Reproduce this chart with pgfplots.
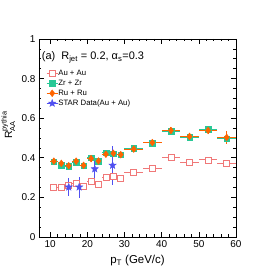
\documentclass[border=0pt]{standalone}
\usepackage{fontspec}
\setmainfont{Liberation Sans}
\usepackage{amsmath}
\usepackage{pgfplots}
\usepackage{pgfplotstable}
\pgfplotsset{compat=1.18}
\definecolor{auc}{RGB}{240,120,120}
\definecolor{zrc}{RGB}{40,200,150}
\definecolor{ruc}{RGB}{255,100,0}
\definecolor{starc}{RGB}{80,80,240}

\pgfdeclareplotmark{fstar}{%
  \pgfpathmoveto{\pgfpointpolar{90}{\pgfplotmarksize}}%
  \pgfpathlineto{\pgfpointpolar{126}{0.42\pgfplotmarksize}}%
  \pgfpathlineto{\pgfpointpolar{162}{\pgfplotmarksize}}%
  \pgfpathlineto{\pgfpointpolar{198}{0.42\pgfplotmarksize}}%
  \pgfpathlineto{\pgfpointpolar{234}{\pgfplotmarksize}}%
  \pgfpathlineto{\pgfpointpolar{270}{0.42\pgfplotmarksize}}%
  \pgfpathlineto{\pgfpointpolar{306}{\pgfplotmarksize}}%
  \pgfpathlineto{\pgfpointpolar{342}{0.42\pgfplotmarksize}}%
  \pgfpathlineto{\pgfpointpolar{18}{\pgfplotmarksize}}%
  \pgfpathlineto{\pgfpointpolar{54}{0.42\pgfplotmarksize}}%
  \pgfpathclose
  \pgfusepathqfillstroke
}

\pgfplotstableread{
x y ex ey
11 0.252 1 0.006
13 0.249 1 0.006
15 0.259 1 0.006
17 0.269 1 0.006
19 0.256 1 0.006
21 0.281 1 0.006
23 0.266 1 0.006
25 0.300 1 0.006
27 0.305 1 0.007
29 0.295 1 0.007
32.5 0.325 2.5 0.007
37.5 0.347 2.5 0.008
42.5 0.401 2.5 0.008
47.5 0.376 2.5 0.010
52.5 0.389 2.5 0.010
57.5 0.371 2.5 0.016
}\auau

\pgfplotstableread{
x y ex ey
11 0.380 1 0.012
13 0.364 1 0.012
15 0.358 1 0.012
17 0.378 1 0.012
19 0.360 1 0.012
21 0.400 1 0.012
23 0.382 1 0.012
25 0.425 1 0.012
27 0.420 1 0.012
29 0.415 1 0.012
32.5 0.447 2.5 0.012
37.5 0.475 2.5 0.012
42.5 0.535 2.5 0.014
47.5 0.505 2.5 0.014
52.5 0.545 2.5 0.015
57.5 0.496 2.5 0.022
}\zrzr

\pgfplotstableread{
x y ex ey
11 0.383 1 0.015
13 0.372 1 0.015
15 0.360 1 0.015
17 0.383 1 0.015
19 0.362 1 0.015
21 0.396 1 0.015
23 0.384 1 0.015
25 0.418 1 0.015
27 0.423 1 0.015
29 0.416 1 0.015
32.5 0.444 2.5 0.015
37.5 0.477 2.5 0.015
42.5 0.538 2.5 0.016
47.5 0.508 2.5 0.016
52.5 0.538 2.5 0.017
57.5 0.503 2.5 0.034
}\ruru

\pgfplotstableread{
x y ex ey
15 0.252 0 0.047
17.8 0.252 0 0.053
22 0.344 0 0.065
26.8 0.362 0 0.100
}\stardata

\begin{document}
\begin{tikzpicture}
\begin{axis}[
  scale only axis, width=197bp, height=198bp,
  xmin=7, xmax=60, ymin=0, ymax=1,
  xtick={10,20,...,60}, ytick={0,0.2,0.4,0.6,0.8,1},
  minor x tick num=4, minor y tick num=3,
  tick align=inside,
  major tick length=5bp, minor tick length=2.5bp,
  axis line style={line width=0.7bp},
  every tick/.style={line width=0.6bp, black},
  /pgf/number format/assume math mode=true,
  ticklabel style={font=\fontsize{10}{12}\selectfont},
  xlabel={p$_{\text{T}}$ (GeV/c)},
  xlabel style={font=\fontsize{11.5}{13}\selectfont, at={(axis description cs:0.5,-0.136)}, anchor=base},
  ylabel={R$^{\text{pythia}}_{\text{AA}}$},
  ylabel style={font=\fontsize{10.5}{12}\selectfont, at={(axis description cs:-0.137,0.566)}, anchor=base},
  legend style={draw=none, fill=none, at={(rel axis cs:0.036,0.848)}, anchor=north west,
    font=\fontsize{7.8}{9}\selectfont, row sep=2bp, inner sep=0pt,
    nodes={inner sep=0.25bp, text height=6bp, text depth=1.5bp}},
  legend cell align=left,
  legend image code/.code={\draw[#1, line width=0.8bp] (0bp,0bp)--(11bp,0bp); \draw[#1] plot coordinates {(5.5bp,0bp)};},
  error bars/error mark=none,
]
\addplot[only marks, mark=square*, mark size=3bp, color=auc, mark options={fill=white, line width=0.8bp, solid},
  error bars/.cd, x dir=both, x explicit, y dir=both, y explicit, error bar style={line width=1bp}]
  table[x=x, y=y, x error=ex, y error=ey]{\auau};
\addlegendentry{Au + Au}
\addplot[only marks, mark=square*, mark size=2.8bp, color=zrc, mark options={fill=zrc, solid},
  error bars/.cd, x dir=both, x explicit, y dir=both, y explicit, error bar style={line width=1bp}]
  table[x=x, y=y, x error=ex, y error=ey]{\zrzr};
\addlegendentry{Zr + Zr}
\addplot[only marks, mark=diamond*, mark size=3.4bp, color=ruc, mark options={fill=ruc, solid},
  error bars/.cd, x dir=both, x explicit, y dir=both, y explicit, error bar style={line width=1bp}]
  table[x=x, y=y, x error=ex, y error=ey]{\ruru};
\addlegendentry{Ru + Ru}
\addplot[only marks, mark=fstar, mark size=3.8bp, color=starc, mark options={fill=starc, line width=0.4bp, solid},
  error bars/.cd, y dir=both, y explicit, error bar style={line width=1bp}]
  table[x=x, y=y, y error=ey]{\stardata};
\addlegendentry{STAR Data(Au + Au)}
\node[anchor=base west, font=\fontsize{11}{13}\selectfont, inner sep=0pt] at (rel axis cs:0.014,0.894)
  {(a)\hspace{0.55em}R$_{\text{jet}}$ = 0.2, α$_{\text{s}}$=0.3};
\coordinate (bl) at (rel axis cs:0,0);
\coordinate (tr) at (rel axis cs:1,1);
\end{axis}
\pgfresetboundingbox
\path ([shift={(-39bp,-39bp)}]bl) rectangle ([shift={(40bp,39bp)}]tr);
\end{tikzpicture}
\end{document}
